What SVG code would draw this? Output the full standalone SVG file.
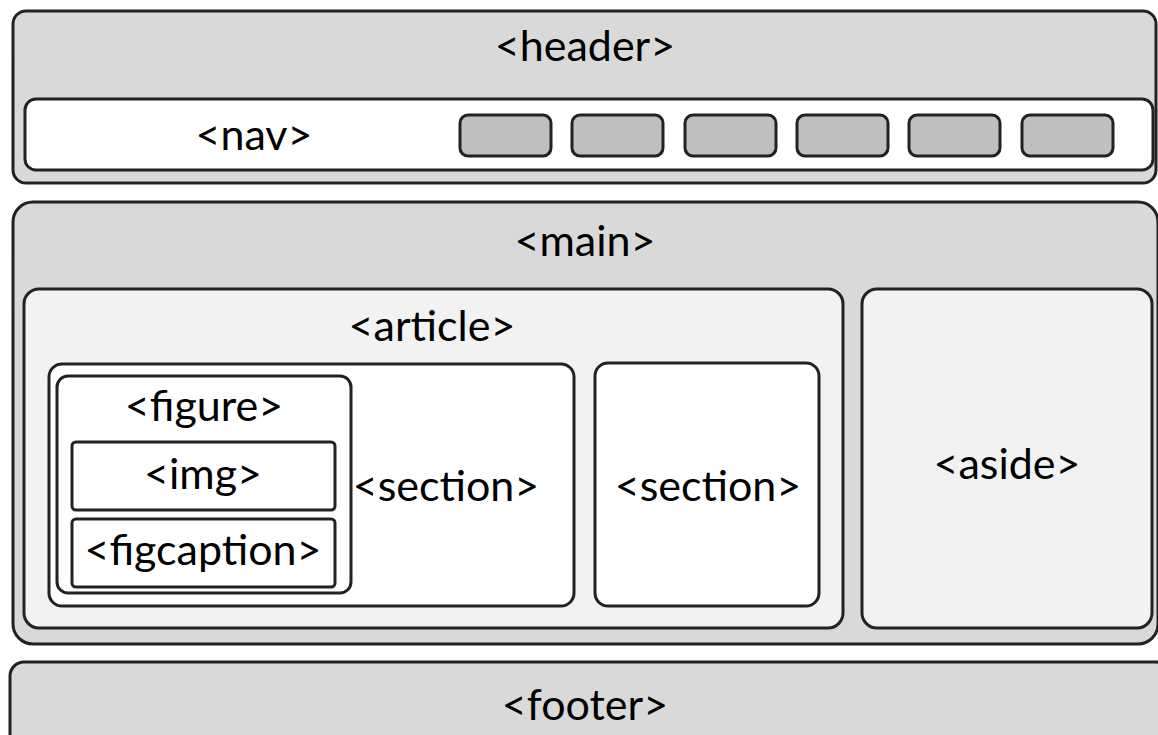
<svg xmlns="http://www.w3.org/2000/svg" width="1158" height="735" viewBox="0 0 1158 735">
<style>
.box{stroke:#222;stroke-width:3}
.outer{fill:#d9d9d9}
.light{fill:#f2f2f2}
.white{fill:#ffffff}
.btn{fill:#bfbfbf;stroke:#222;stroke-width:3}
text{font-family:Lato,"Liberation Sans",sans-serif;font-size:43px;fill:#000;text-anchor:middle}
</style>
<rect width="1158" height="735" fill="#ffffff"/>
<g id="header">
<rect class="box outer" x="13" y="11" width="1143" height="172" rx="13"/>
<text x="585" y="61">&lt;header&gt;</text>
</g>
<g id="nav">
<rect class="box white" x="25" y="99" width="1128" height="71" rx="11"/>
<text x="254" y="150">&lt;nav&gt;</text>
<rect class="btn" x="460" y="115" width="91" height="41" rx="8"/>
<rect class="btn" x="572" y="115" width="91" height="41" rx="8"/>
<rect class="btn" x="685" y="115" width="91" height="41" rx="8"/>
<rect class="btn" x="797" y="115" width="91" height="41" rx="8"/>
<rect class="btn" x="909" y="115" width="91" height="41" rx="8"/>
<rect class="btn" x="1022" y="115" width="91" height="41" rx="8"/>
</g>
<g id="main">
<rect class="box outer" x="13" y="202" width="1145" height="442" rx="20"/>
<text x="585" y="256">&lt;main&gt;</text>
</g>
<g id="article">
<rect class="box light" x="24" y="289" width="819" height="339" rx="15"/>
<text x="432" y="341">&lt;article&gt;</text>
</g>
<g id="section1">
<rect class="box white" x="49" y="364" width="525" height="242" rx="13"/>
<text x="446" y="501">&lt;section&gt;</text>
</g>
<g id="figure">
<rect class="box white" x="57" y="376" width="294" height="217" rx="11"/>
<text x="204" y="421">&lt;figure&gt;</text>
</g>
<g id="img">
<rect class="box white" x="72" y="442" width="263" height="68" rx="4"/>
<text x="203" y="489">&lt;img&gt;</text>
</g>
<g id="figcaption">
<rect class="box white" x="72" y="519" width="263" height="68" rx="4"/>
<text x="203" y="565">&lt;figcaption&gt;</text>
</g>
<g id="section2">
<rect class="box white" x="595" y="363" width="224" height="243" rx="13"/>
<text x="708" y="501">&lt;section&gt;</text>
</g>
<g id="aside">
<rect class="box light" x="862" y="289" width="290" height="339" rx="15"/>
<text x="1007" y="479">&lt;aside&gt;</text>
</g>
<g id="footer">
<rect class="box outer" x="10" y="662" width="1160" height="100" rx="14"/>
<text x="585" y="720">&lt;footer&gt;</text>
</g>
<g id="connectors"></g>
</svg>
